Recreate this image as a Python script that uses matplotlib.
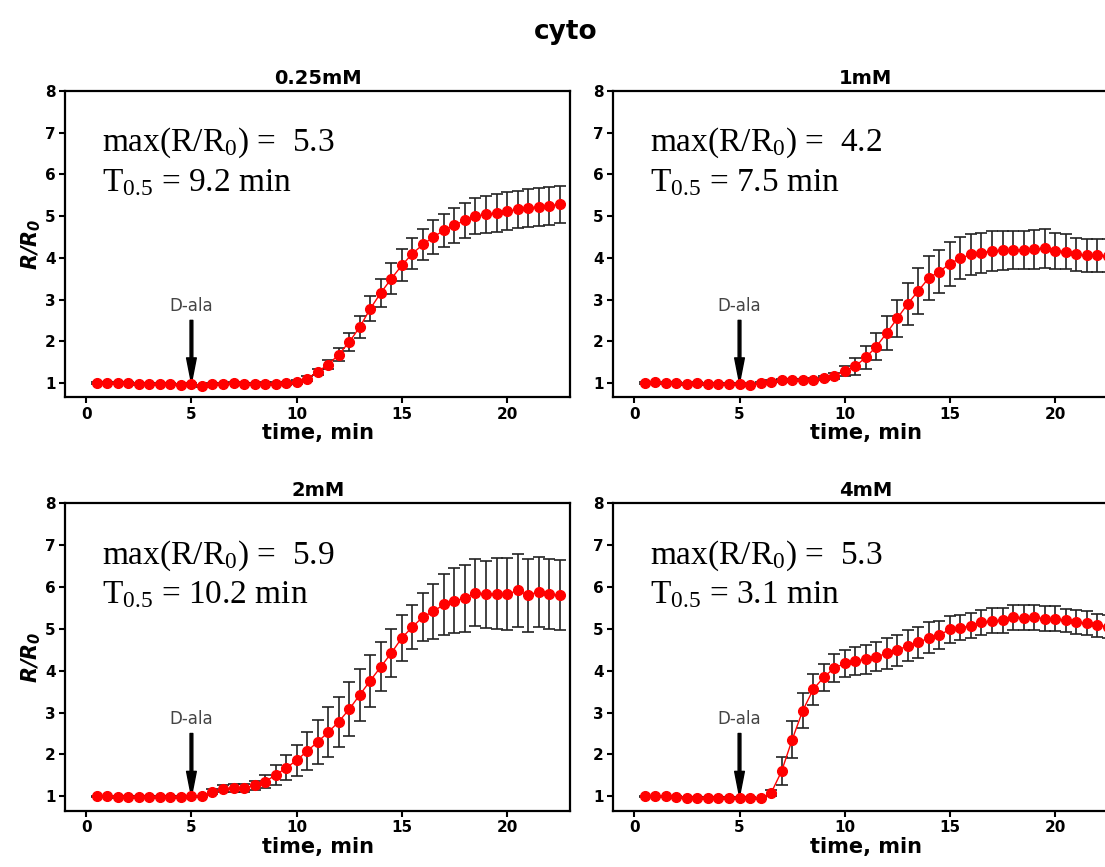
import matplotlib.pyplot as plt

plt.rcParams['mathtext.rm'] = 'Liberation Serif'
plt.rcParams['mathtext.it'] = 'Liberation Serif:italic'

# time points (min)
time = [0.5, 1.0, 1.5, 2.0, 2.5, 3.0, 3.5, 4.0, 4.5, 5.0,
        5.5, 6.0, 6.5, 7.0, 7.5, 8.0, 8.5, 9.0, 9.5, 10.0,
        10.5, 11.0, 11.5, 12.0, 12.5, 13.0, 13.5, 14.0, 14.5, 15.0,
        15.5, 16.0, 16.5, 17.0, 17.5, 18.0, 18.5, 19.0, 19.5, 20.0,
        20.5, 21.0, 21.5, 22.0, 22.5]

titles = ['0.25mM', '1mM', '2mM', '4mM']
max_vals = ['5.3', '4.2', '5.9', '5.3']
t_half = ['9.2', '7.5', '10.2', '3.1']

# R/R0 values
r_025 = [0.99, 0.99, 0.99, 0.99, 0.98, 0.98, 0.98, 0.97, 0.96, 0.97,
         0.93, 0.97, 0.98, 0.99, 0.98, 0.98, 0.98, 0.98, 0.99, 1.02,
         1.10, 1.27, 1.44, 1.68, 1.98, 2.34, 2.78, 3.16, 3.50, 3.82,
         4.10, 4.32, 4.50, 4.66, 4.78, 4.90, 5.00, 5.04, 5.08, 5.12,
         5.16, 5.20, 5.22, 5.25, 5.28]
r_1 = [1.00, 1.01, 0.99, 0.99, 0.98, 0.99, 0.98, 0.98, 0.97, 0.97,
       0.95, 0.99, 1.03, 1.06, 1.07, 1.07, 1.08, 1.12, 1.17, 1.28,
       1.40, 1.61, 1.87, 2.20, 2.55, 2.90, 3.21, 3.52, 3.67, 3.86,
       3.99, 4.08, 4.12, 4.17, 4.18, 4.18, 4.19, 4.20, 4.23, 4.17,
       4.15, 4.08, 4.06, 4.06, 4.05]
r_2 = [1.00, 1.00, 0.99, 0.99, 0.99, 0.99, 0.99, 0.99, 0.99, 1.00,
       1.00, 1.11, 1.18, 1.20, 1.20, 1.26, 1.35, 1.51, 1.68, 1.86,
       2.08, 2.30, 2.53, 2.78, 3.08, 3.42, 3.76, 4.09, 4.42, 4.78,
       5.04, 5.28, 5.41, 5.58, 5.67, 5.72, 5.86, 5.82, 5.83, 5.82,
       5.91, 5.80, 5.88, 5.82, 5.80]
r_4 = [1.00, 1.00, 1.00, 0.98, 0.97, 0.97, 0.96, 0.96, 0.96, 0.96,
       0.96, 0.95, 1.08, 1.60, 2.35, 3.04, 3.55, 3.84, 4.06, 4.17,
       4.23, 4.27, 4.33, 4.41, 4.49, 4.59, 4.67, 4.78, 4.85, 4.98,
       5.02, 5.07, 5.15, 5.19, 5.20, 5.27, 5.26, 5.27, 5.24, 5.24,
       5.20, 5.16, 5.13, 5.08, 5.05]

# error bars
e_025 = [0.02, 0.02, 0.02, 0.02, 0.02, 0.02, 0.02, 0.02, 0.02, 0.02,
         0.03, 0.02, 0.02, 0.02, 0.02, 0.02, 0.03, 0.03, 0.03, 0.04,
         0.06, 0.07, 0.10, 0.16, 0.22, 0.27, 0.30, 0.34, 0.37, 0.38,
         0.38, 0.38, 0.40, 0.40, 0.42, 0.42, 0.43, 0.45, 0.45, 0.45,
         0.45, 0.45, 0.46, 0.46, 0.45]
e_1 = [0.02, 0.02, 0.02, 0.02, 0.02, 0.02, 0.02, 0.02, 0.02, 0.02,
       0.02, 0.02, 0.03, 0.03, 0.03, 0.03, 0.04, 0.05, 0.07, 0.12,
       0.20, 0.27, 0.32, 0.40, 0.45, 0.50, 0.55, 0.53, 0.52, 0.53,
       0.50, 0.50, 0.48, 0.48, 0.47, 0.46, 0.46, 0.47, 0.47, 0.43,
       0.43, 0.40, 0.40, 0.40, 0.40]
e_2 = [0.02, 0.02, 0.02, 0.02, 0.02, 0.02, 0.02, 0.02, 0.02, 0.02,
       0.02, 0.06, 0.08, 0.09, 0.09, 0.11, 0.15, 0.24, 0.30, 0.37,
       0.45, 0.52, 0.60, 0.60, 0.64, 0.62, 0.62, 0.58, 0.58, 0.55,
       0.52, 0.58, 0.65, 0.72, 0.78, 0.80, 0.80, 0.80, 0.85, 0.86,
       0.87, 0.87, 0.84, 0.84, 0.83]
e_4 = [0.02, 0.02, 0.02, 0.02, 0.02, 0.02, 0.02, 0.02, 0.02, 0.02,
       0.02, 0.02, 0.07, 0.33, 0.44, 0.42, 0.36, 0.32, 0.33, 0.32,
       0.33, 0.35, 0.35, 0.37, 0.37, 0.37, 0.37, 0.37, 0.33, 0.32,
       0.30, 0.30, 0.30, 0.30, 0.30, 0.30, 0.30, 0.30, 0.30, 0.30,
       0.28, 0.28, 0.28, 0.28, 0.28]

values = [r_025, r_1, r_2, r_4]
errors = [e_025, e_1, e_2, e_4]

fig = plt.figure(figsize=(11.05, 8.67), dpi=100)

# axes positions [left, bottom, width, height]; right column runs off the page like the original
positions = [[0.059, 0.542, 0.457, 0.353],
             [0.555, 0.542, 0.457, 0.353],
             [0.059, 0.065, 0.457, 0.355],
             [0.555, 0.065, 0.457, 0.355]]

for i in range(4):
    ax = fig.add_axes(positions[i])
    ax.errorbar(time, values[i], yerr=errors[i], color='red', lw=1,
                marker='o', ms=7, ecolor='#222222', elinewidth=1.2,
                capsize=4.5, capthick=1.2, zorder=3)
    ax.set_xlim(-1, 23)
    ax.set_ylim(0.66, 8)
    ax.set_xticks([0, 5, 10, 15, 20])
    ax.set_yticks([1, 2, 3, 4, 5, 6, 7, 8])
    for lab in ax.get_xticklabels() + ax.get_yticklabels():
        lab.set_fontweight('heavy')
        lab.set_fontsize(11)
    ax.tick_params(width=1.5, length=4, pad=3)
    for sp in ax.spines.values():
        sp.set_linewidth(1.6)
    ax.set_title(titles[i], fontsize=14, fontweight='bold', pad=5)
    ax.set_xlabel('time, min', fontsize=15, fontweight='bold', labelpad=1)
    if i % 2 == 0:
        ax.set_ylabel(r'$\mathbfit{R/R_0}$', fontsize=15,
                      math_fontfamily='dejavusans', labelpad=1)

    ax.text(0.75, 6.75, r'max(R/R$_0$) =  ' + max_vals[i], fontsize=24,
            family='Liberation Serif', math_fontfamily='custom', va='center')
    ax.text(0.75, 5.8, r'T$_{0.5}$ = ' + t_half[i] + ' min', fontsize=24,
            family='Liberation Serif', math_fontfamily='custom', va='center')

    # D-ala addition marker
    ax.annotate('', xy=(5, 1.0), xytext=(5, 2.5),
                arrowprops=dict(facecolor='black', edgecolor='black',
                                width=2, headwidth=7, headlength=18, shrink=0))
    ax.text(5, 2.85, 'D-ala', fontsize=12, color='#444444', ha='center', va='center')

fig.text(0.512, 0.963, 'cyto', fontsize=19, fontweight='heavy', ha='center', va='center')

plt.savefig('out.png', dpi=100)
